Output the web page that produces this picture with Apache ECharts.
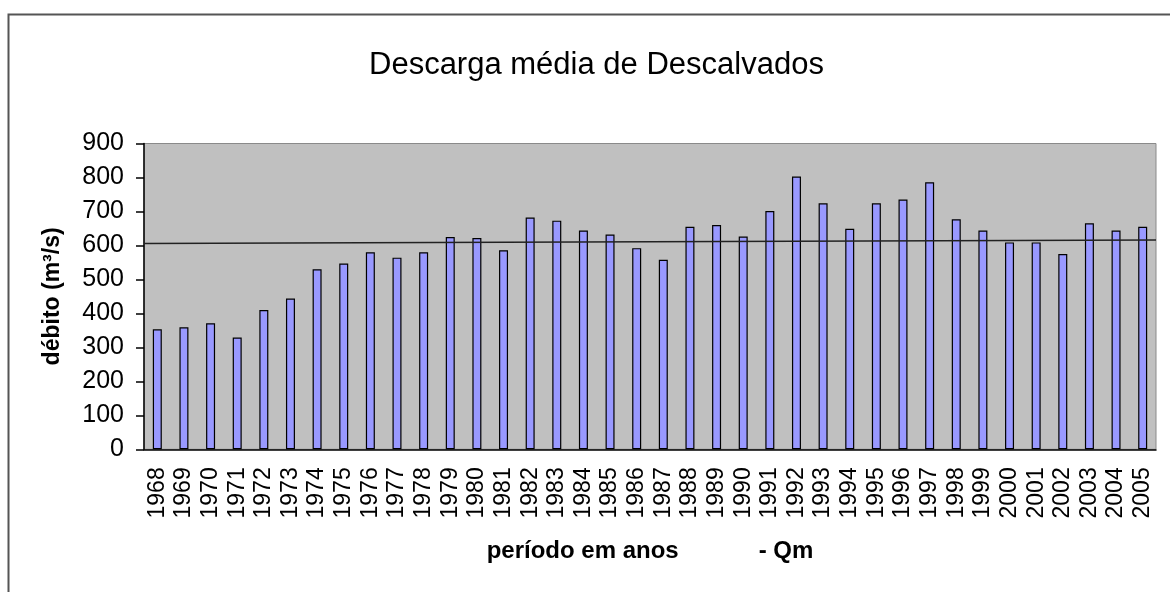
<!DOCTYPE html>
<html>
<head>
<meta charset="utf-8">
<script src="https://cdn.jsdelivr.net/npm/echarts@6/dist/echarts.min.js"></script>
<style>
  html, body { margin: 0; padding: 0; background: #fff; }
  #chart { width: 1170px; height: 592px; }
</style>
</head>
<body>
<div id="chart"></div>
<script>
// anos (categorias)
const years = ['1968', '1969', '1970', '1971', '1972', '1973', '1974', '1975', '1976', '1977',
  '1978', '1979', '1980', '1981', '1982', '1983', '1984', '1985', '1986', '1987',
  '1988', '1989', '1990', '1991', '1992', '1993', '1994', '1995', '1996', '1997',
  '1998', '1999', '2000', '2001', '2002', '2003', '2004', '2005'];

// descarga média Qm (m3/s)
const discharge = [353, 359, 371, 329, 410, 444, 530, 547, 580, 564,
  580, 625, 622, 586, 682, 673, 644, 632, 592, 558,
  655, 660, 626, 701, 803, 724, 649, 724, 735, 786,
  677, 644, 609, 609, 575, 665, 644, 655];

// linha de tendência (valor no início e no fim do período)
const trendStart = 606;
const trendEnd = 616;

const yTicks = [0, 100, 200, 300, 400, 500, 600, 700, 800, 900];

const labelFont = "'Liberation Sans', Arial, sans-serif";
const myChart = echarts.init(document.getElementById('chart'));

const option = {
  animation: false,
  backgroundColor: '#fff',
  title: {
    text: 'Descarga média de Descalvados',
    left: 364,
    top: 45,
    textStyle: {
      color: '#000',
      fontSize: 31,
      fontWeight: 'normal',
      fontFamily: labelFont
    }
  },
  graphic: [
    {
      type: 'rect',
      shape: { x: 8.5, y: 14.5, width: 1200, height: 700 },
      style: { fill: 'none', stroke: '#555', lineWidth: 2 },
      silent: true
    }
  ],
  grid: {
    left: 144,
    right: 14,
    top: 143.5,
    bottom: 142.7,
    show: true,
    backgroundColor: '#c0c0c0',
    borderColor: '#8a8a8a',
    borderWidth: 1
  },
  xAxis: [
    {
      type: 'category',
      data: years,
      name: 'período em anos            - Qm',
      nameLocation: 'middle',
      nameGap: 90,
      nameTextStyle: {
        color: '#000',
        fontSize: 24,
        fontWeight: 'bold',
        fontFamily: labelFont,
        verticalAlign: 'top'
      },
      axisLine: { lineStyle: { color: '#000', width: 1.5 } },
      axisTick: { interval: 0, length: 7, lineStyle: { color: '#000', width: 1.5 } },
      axisLabel: {
        interval: 0,
        rotate: 90,
        margin: 18,
        color: '#000',
        fontSize: 23,
        fontFamily: labelFont
      },
      splitLine: { show: false }
    },
    {
      type: 'value',
      min: 0,
      max: 1,
      show: false
    }
  ],
  yAxis: {
    type: 'value',
    min: yTicks[0],
    max: yTicks[yTicks.length - 1],
    interval: 100,
    name: 'débito (m³/s)',
    nameLocation: 'middle',
    nameGap: 80,
    nameTextStyle: {
      color: '#000',
      fontSize: 23,
      fontWeight: 'bold',
      fontFamily: labelFont
    },
    axisLine: { show: true, lineStyle: { color: '#000', width: 1.5 } },
    axisTick: { show: true, length: 8, lineStyle: { color: '#000', width: 1.5 } },
    axisLabel: {
      margin: 20,
      color: '#000',
      fontSize: 25,
      fontFamily: labelFont
    },
    splitLine: { show: false }
  },
  series: [
    {
      type: 'bar',
      data: discharge,
      barWidth: 9,
      itemStyle: {
        color: '#9999ff',
        borderColor: '#000',
        borderWidth: 1.2
      }
    },
    {
      type: 'line',
      xAxisIndex: 1,
      data: [[0, trendStart], [1, trendEnd]],
      symbol: 'none',
      lineStyle: { color: '#222', width: 1.5 },
      z: 5
    }
  ]
};

myChart.setOption(option);
</script>
</body>
</html>
